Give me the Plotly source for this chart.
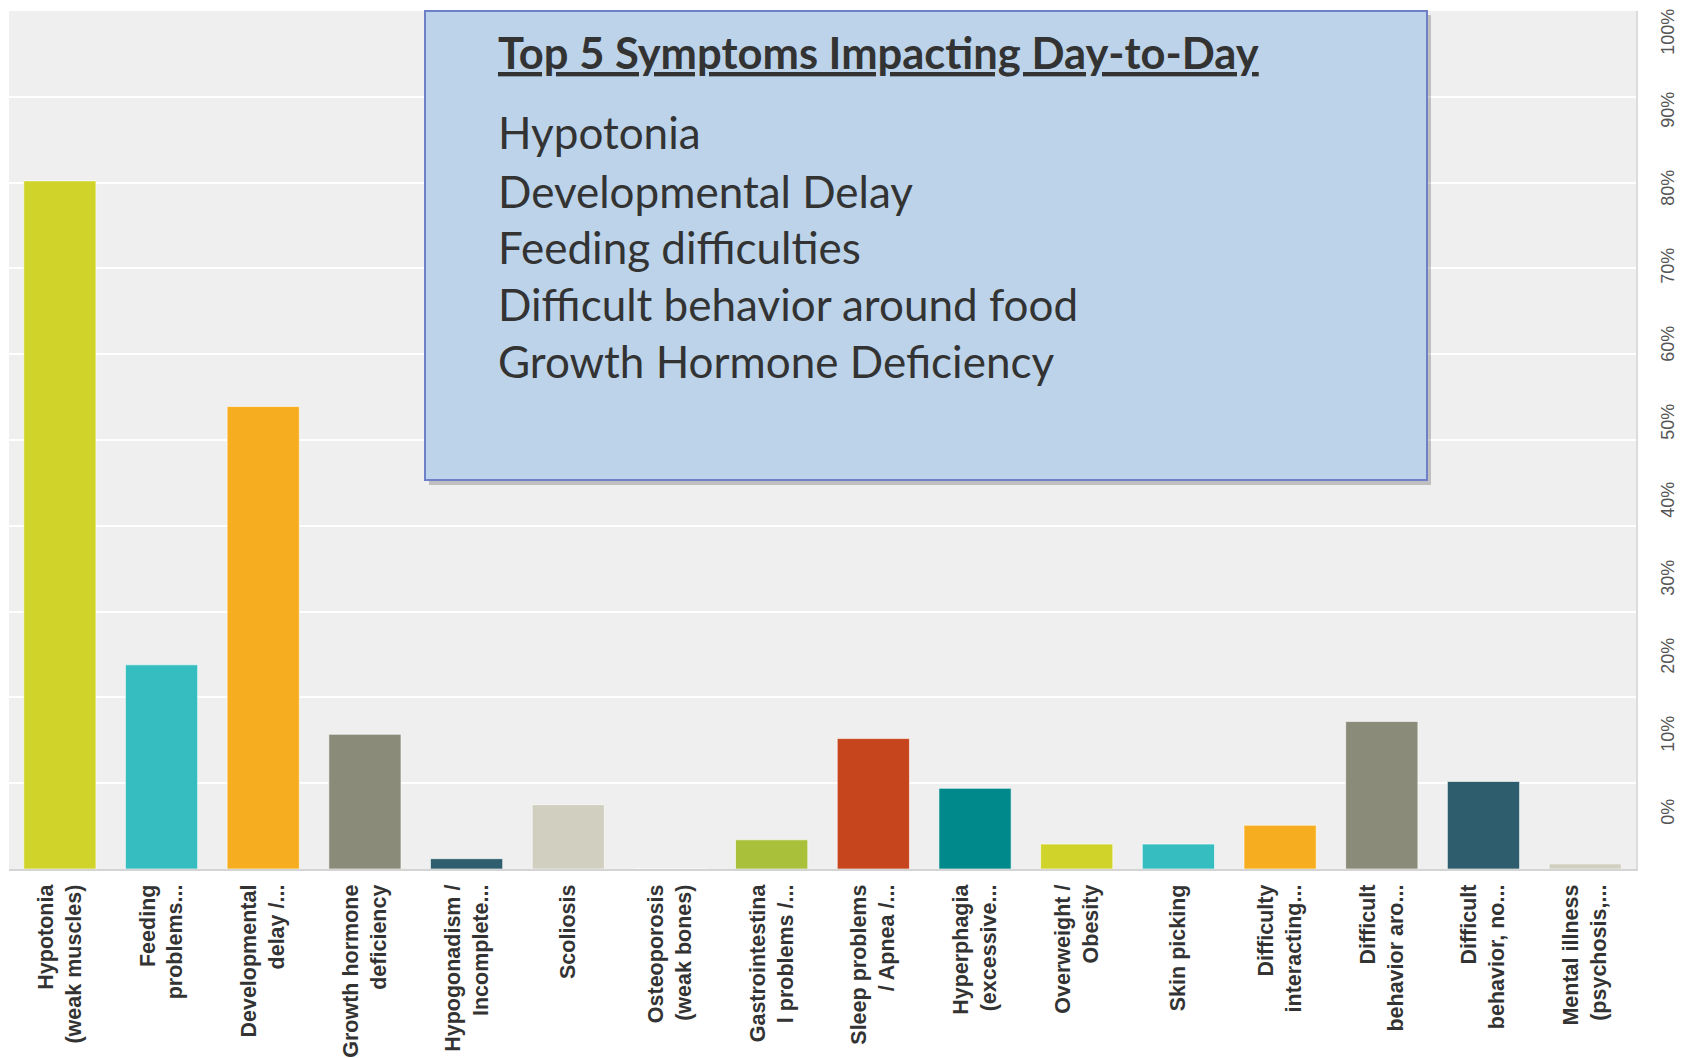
import plotly.graph_objects as go

categories = [
    "Hypotonia<br>(weak muscles)",
    "Feeding<br>problems...",
    "Developmental<br>delay /...",
    "Growth hormone<br>deficiency",
    "Hypogonadism /<br>Incomplete...",
    "Scoliosis",
    "Osteoporosis<br>(weak bones)",
    "Gastrointestina<br>l problems /...",
    "Sleep problems<br>/ Apnea /...",
    "Hyperphagia<br>(excessive...",
    "Overweight /<br>Obesity",
    "Skin picking",
    "Difficulty<br>interacting...",
    "Difficult<br>behavior aro...",
    "Difficult<br>behavior, no...",
    "Mental illness<br>(psychosis,...",
]
values = [80.2, 23.8, 53.9, 15.7, 1.2, 7.5, 0.0, 3.4, 15.2, 9.4, 2.9, 2.9, 5.1, 17.2, 10.2, 0.6]
colors = ["#D0D42A", "#35BDBF", "#F6AE20", "#8B8B7A", "#2E5E6E", "#D0CFC0", "#7A6FA0",
          "#A8C03A", "#C7451C", "#00898A", "#D0D42A", "#35BDBF", "#F6AE20", "#8B8B7A",
          "#2E5E6E", "#D0CFC0"]
y_ticks = list(range(0, 101, 10))
y_ticklabels = [f"{v}%" for v in y_ticks]

box_title = "Top 5 Symptoms Impacting Day-to-Day"
box_items = ["Hypotonia", "Developmental Delay", "Feeding difficulties",
             "Difficult behavior around food", "Growth Hormone Deficiency"]

# page has an 8px body margin; figure is sized to fill the rest of the window
OFF = 8
W, H = 1680, 1050
L, R, T, B = 9 - OFF, 1636 - OFF, 11 - OFF, 869 - OFF

fig = go.Figure()
fig.add_trace(go.Bar(
    x=list(range(len(categories))), y=values,
    marker=dict(color=colors, line=dict(color="rgba(255,255,255,0.6)", width=1)),
    width=0.71,
))
fig.add_trace(go.Scatter(x=[None], y=[None], yaxis="y2", showlegend=False, hoverinfo="skip"))

fig.update_layout(
    width=W, height=H,
    margin=dict(l=L, r=W - R, t=T, b=H - B, pad=0, autoexpand=False),
    paper_bgcolor="white", plot_bgcolor="#EFEFEF",
    showlegend=False,
    font=dict(family="Liberation Sans, Arial, sans-serif", color="#333333"),
    xaxis=dict(
        tickmode="array", tickvals=list(range(len(categories))), ticktext=categories,
        range=[-0.5, len(categories) - 0.5], tickangle=-90, automargin=False,
        tickfont=dict(size=21.5, color="#333333", family="Liberation Sans, Arial, sans-serif", weight="bold"),
        showgrid=False, zeroline=False, showline=True, linecolor="#D4D4D4", linewidth=2,
        ticks="", ticklabelstandoff=5,
    ),
    yaxis=dict(
        side="right", range=[0, 100], tickmode="array", tickvals=y_ticks,
        showticklabels=False, automargin=False,
        showgrid=True, gridcolor="white", gridwidth=2, zeroline=False,
        showline=True, linecolor="#DCDCDC", linewidth=2, ticks="",
    ),
    yaxis2=dict(
        overlaying="y", side="right", range=[-7, 103],
        tickmode="array", tickvals=y_ticks, ticktext=y_ticklabels,
        tickangle=-90, tickfont=dict(size=18, color="#555555"), automargin=False,
        showgrid=False, zeroline=False, showline=False, ticks="", ticklabelstandoff=19,
        ticklabeloverflow="allow",
    ),
)

def px_x(x):
    return (x - OFF - L) / (R - L)

def px_y(y):
    return (B - (y - OFF)) / (B - T)

# shadow + box (page pixel coordinates)
fig.add_shape(type="rect", xref="paper", yref="paper",
              x0=px_x(429), x1=px_x(1431), y0=px_y(485), y1=px_y(15),
              fillcolor="rgba(0,0,0,0.2)", line=dict(width=0), layer="above")
fig.add_shape(type="rect", xref="paper", yref="paper",
              x0=px_x(425), x1=px_x(1427), y0=px_y(480), y1=px_y(11),
              fillcolor="#BCD3E9", line=dict(color="#6E80C8", width=2), layer="above")

box_font = "Lato, Open Sans, sans-serif"
fig.add_annotation(xref="paper", yref="paper", x=px_x(496), y=px_y(52),
                   xanchor="left", yanchor="middle", showarrow=False,
                   text=box_title,
                   font=dict(family=box_font, size=43.5, color="#333333", weight="bold", lineposition="under"))
item_y = [132.5, 190.5, 246.5, 303.5, 361.5]
for txt, yy in zip(box_items, item_y):
    fig.add_annotation(xref="paper", yref="paper", x=px_x(496), y=px_y(yy),
                       xanchor="left", yanchor="middle", showarrow=False,
                       text=txt, font=dict(family=box_font, size=44, color="#333333"))

fig.write_html("out.html")
